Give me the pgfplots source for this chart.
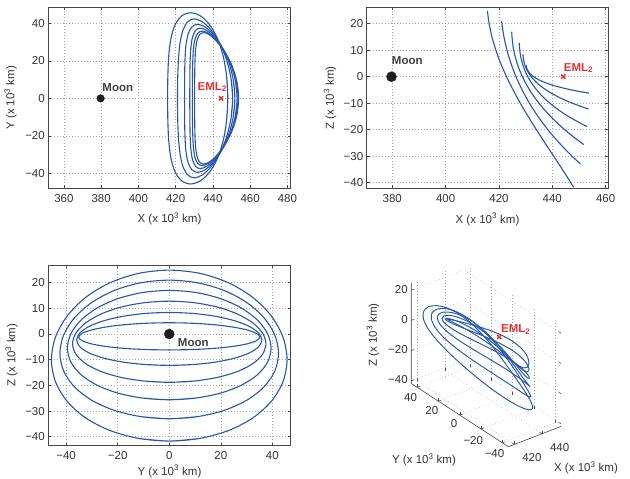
\documentclass[border=0pt]{standalone}
\usepackage{fontspec}
\setmainfont{Liberation Sans}
\usepackage{pgfplots}
\usepackage{pgfplotstable}
\pgfplotsset{compat=1.18}

\definecolor{orbit}{RGB}{38,86,172}
\definecolor{lagr}{RGB}{232,50,45}
\definecolor{moonc}{RGB}{30,30,30}
\definecolor{axcol}{RGB}{70,70,70}

% Halo orbit family about EML2, one table per orbit (x y z in 10^3 km).
% Each closed orbit repeats one sample before its start and after its end,
% so that the smoothed curve closes without a corner.
\pgfplotstableread{
x y z
447.37 -11.83 -40.67
448.00 0 -41.70
447.37 11.83 -40.67
445.47 22.85 -37.64
442.31 32.31 -32.75
438.06 39.58 -26.25
433.10 44.14 -18.51
428.00 45.70 -10.00
423.42 44.14 -1.27
419.86 39.58 7.05
417.54 32.31 14.35
416.31 22.85 20.04
415.81 11.83 23.65
415.70 0 24.90
415.81 -11.83 23.65
416.31 -22.85 20.04
417.54 -32.31 14.35
419.86 -39.58 7.05
423.42 -44.14 -1.27
428.00 -45.70 -10.00
433.10 -44.14 -18.51
438.06 -39.58 -26.25
442.31 -32.31 -32.75
445.47 -22.85 -37.64
447.37 -11.83 -40.67
448.00 0 -41.70
447.37 11.83 -40.67
}\orbA
\pgfplotstableread{
x y z
449.71 -10.97 -32.18
450.60 0 -33.00
449.71 10.97 -32.18
447.17 21.20 -29.76
443.37 29.98 -25.84
438.85 36.72 -20.63
434.22 40.95 -14.39
430.00 42.40 -7.50
426.56 40.95 -0.41
424.05 36.72 6.38
422.43 29.98 12.34
421.53 21.20 17.01
421.11 10.97 19.98
421.00 0 21.00
421.11 -10.97 19.98
421.53 -21.20 17.01
422.43 -29.98 12.34
424.05 -36.72 6.38
426.56 -40.95 -0.41
430.00 -42.40 -7.50
434.22 -40.95 -14.39
438.85 -36.72 -20.63
443.37 -29.98 -25.84
447.17 -21.20 -29.76
449.71 -10.97 -32.18
450.60 0 -33.00
449.71 10.97 -32.18
}\orbB
\pgfplotstableread{
x y z
450.90 -10.22 -24.95
451.80 0 -25.60
450.90 10.22 -24.95
448.37 19.75 -23.05
444.60 27.93 -19.96
440.18 34.21 -15.85
435.73 38.15 -10.93
431.80 39.50 -5.50
428.75 38.15 0.09
426.68 34.21 5.45
425.50 27.93 10.16
424.99 19.75 13.85
424.82 10.22 16.19
424.80 0 17.00
424.82 -10.22 16.19
424.99 -19.75 13.85
425.50 -27.93 10.16
426.68 -34.21 5.45
428.75 -38.15 0.09
431.80 -39.50 -5.50
435.73 -38.15 -10.93
440.18 -34.21 -15.85
444.60 -27.93 -19.96
448.37 -19.75 -23.05
450.90 -10.22 -24.95
451.80 0 -25.60
450.90 10.22 -24.95
}\orbC
\pgfplotstableread{
x y z
452.02 -9.71 -18.31
453.00 0 -18.80
452.02 9.71 -18.31
449.31 18.75 -16.88
445.37 26.52 -14.57
440.95 32.48 -11.50
436.72 36.22 -7.84
433.20 37.50 -3.80
430.63 36.22 0.34
429.00 32.48 4.30
428.13 26.52 7.77
427.75 18.75 10.48
427.62 9.71 12.21
427.60 0 12.80
427.62 -9.71 12.21
427.75 -18.75 10.48
428.13 -26.52 7.77
429.00 -32.48 4.30
430.63 -36.22 0.34
433.20 -37.50 -3.80
436.72 -36.22 -7.84
440.95 -32.48 -11.50
445.37 -26.52 -14.57
449.31 -18.75 -16.88
452.02 -9.71 -18.31
453.00 0 -18.80
452.02 9.71 -18.31
}\orbD
\pgfplotstableread{
x y z
452.62 -9.29 -11.88
453.60 0 -12.20
452.62 9.29 -11.88
449.92 17.95 -10.92
446.02 25.38 -9.38
441.68 31.09 -7.35
437.57 34.68 -4.94
434.20 35.90 -2.30
431.79 34.68 0.40
430.28 31.09 2.95
429.48 25.38 5.18
429.14 17.95 6.92
429.02 9.29 8.02
429.00 0 8.40
429.02 -9.29 8.02
429.14 -17.95 6.92
429.48 -25.38 5.18
430.28 -31.09 2.95
431.79 -34.68 0.40
434.20 -35.90 -2.30
437.57 -34.68 -4.94
441.68 -31.09 -7.35
446.02 -25.38 -9.38
449.92 -17.95 -10.92
452.62 -9.29 -11.88
453.60 0 -12.20
452.62 9.29 -11.88
}\orbE
\pgfplotstableread{
x y z
452.84 -9.08 -6.04
453.80 0 -6.20
452.84 9.08 -6.04
450.18 17.55 -5.57
446.37 24.82 -4.80
442.14 30.40 -3.78
438.19 33.90 -2.55
435.00 35.10 -1.20
432.75 33.90 0.19
431.36 30.40 1.53
430.63 24.82 2.70
430.32 17.55 3.62
430.22 9.08 4.20
430.20 0 4.40
430.22 -9.08 4.20
430.32 -17.55 3.62
430.63 -24.82 2.70
431.36 -30.40 1.53
432.75 -33.90 0.19
435.00 -35.10 -1.20
438.19 -33.90 -2.55
442.14 -30.40 -3.78
446.37 -24.82 -4.80
450.18 -17.55 -5.57
452.84 -9.08 -6.04
453.80 0 -6.20
452.84 9.08 -6.04
}\orbF

\newcommand{\kmlabel}[1]{#1 (x 10\textsuperscript{3} km)}

\tikzset{
  tag/.style={inner sep=0pt, font=\bfseries\fontsize{11.5}{13}\selectfont},
  lbl/.style={font=\fontsize{11.5}{13}\selectfont, text=black!80},
}
\pgfplotsset{
  panel/.style={
    scale only axis,
    axis line style={axcol, line width=0.6pt},
    tick style={axcol, line width=0.5pt},
    major tick length=3pt,
    grid=major,
    major grid style={gray!70, line width=0.45pt, dash pattern=on 0.6pt off 2.4pt},
    tick label style={font=\fontsize{11.5}{13}\selectfont, text=black!80},
    xticklabel style={yshift=-2.5pt},
    label style={font=\fontsize{11.5}{13}\selectfont, text=black!80},
    xlabel style={at={(axis description cs:0.5,-0.17)}, anchor=center},
    ylabel style={at={(axis description cs:-0.156,0.5)}, anchor=center},
  },
  orb/.style={orbit, line width=1.1pt, smooth, no marks},
  moonmark/.style={only marks, mark=*, mark size=#1, moonc},
  l2mark/.style={only marks, mark=x, mark size=3pt, lagr, line width=1.5pt},
}

\begin{document}
\begin{tikzpicture}
\path[use as bounding box] (0,0) rectangle (630pt,479pt);

% ---- X-Y projection ----
\begin{axis}[panel, at={(48.3pt,290.7pt)}, anchor=south west,
  width=242.4pt, height=181pt,
  xmin=351.6, xmax=481.8, ymin=-48, ymax=48.6,
  xtick={360,380,...,480}, ytick={-40,-20,0,20,40},
  xticklabels={360,380,400,420,440,460,480},
  yticklabels={−40,−20,0,20,40},
  xlabel={\kmlabel{X}}, ylabel={\kmlabel{Y}}]
\addplot[orb] table[x=x,y=y] {\orbA};
\addplot[orb] table[x=x,y=y] {\orbB};
\addplot[orb] table[x=x,y=y] {\orbC};
\addplot[orb] table[x=x,y=y] {\orbD};
\addplot[orb] table[x=x,y=y] {\orbE};
\addplot[orb] table[x=x,y=y] {\orbF};
\addplot[moonmark=3.8pt] coordinates {(379.7,0)};
\addplot[l2mark] coordinates {(444.4,0)};
\node[tag, anchor=west, text=moonc!85] at (axis cs:380.6,5.9) {Moon};
\node[tag, anchor=base west, text=lagr] at (axis cs:431.7,4.4) {EML\textsubscript{2}};
\end{axis}

% ---- X-Z projection ----
\begin{axis}[panel, at={(366.7pt,290.5pt)}, anchor=south west,
  width=241.6pt, height=181.2pt,
  xmin=370.4, xmax=461, ymin=-42.2, ymax=26.2,
  xtick={380,400,...,460}, ytick={-40,-30,...,20},
  xticklabels={380,400,420,440,460},
  yticklabels={−40,−30,−20,−10,0,10,20},
  xlabel={\kmlabel{X}}, ylabel={\kmlabel{Z}},
  ylabel style={at={(axis description cs:-0.152,0.5)}}]
\addplot[orb] table[x=x,y=z] {\orbA};
\addplot[orb] table[x=x,y=z] {\orbB};
\addplot[orb] table[x=x,y=z] {\orbC};
\addplot[orb] table[x=x,y=z] {\orbD};
\addplot[orb] table[x=x,y=z] {\orbE};
\addplot[orb] table[x=x,y=z] {\orbF};
\addplot[moonmark=5pt] coordinates {(379.7,0)};
\addplot[l2mark] coordinates {(444.1,0)};
\node[tag, anchor=west, text=moonc!85] at (axis cs:379.8,5.9) {Moon};
\node[tag, anchor=base west, text=lagr] at (axis cs:444.3,2.1) {EML\textsubscript{2}};
\end{axis}

% ---- Y-Z projection ----
\begin{axis}[panel, at={(48.3pt,33.3pt)}, anchor=south west,
  width=242.4pt, height=180.7pt,
  xmin=-46.9, xmax=47.1, ymin=-43.5, ymax=26.9,
  xtick={-40,-20,...,40}, ytick={-40,-30,...,20},
  xticklabels={−40,−20,0,20,40},
  yticklabels={−40,−30,−20,−10,0,10,20},
  xlabel={\kmlabel{Y}}, ylabel={\kmlabel{Z}},
  xlabel style={at={(axis description cs:0.5,-0.142)}},
  ylabel style={at={(axis description cs:-0.151,0.5)}}]
\addplot[orb] table[x=y,y=z] {\orbA};
\addplot[orb] table[x=y,y=z] {\orbB};
\addplot[orb] table[x=y,y=z] {\orbC};
\addplot[orb] table[x=y,y=z] {\orbD};
\addplot[orb] table[x=y,y=z] {\orbE};
\addplot[orb] table[x=y,y=z] {\orbF};
\addplot[moonmark=5pt] coordinates {(0,0)};
\node[tag, anchor=west, text=moonc!85] at (axis cs:3.3,-3.2) {Moon};
\end{axis}

% ---- 3-D view ----
\begin{axis}[at={(411.2pt,32.3pt)}, anchor=south west,
  x={(1.3845pt,0.5312pt)}, y={(-1.0624pt,0.6922pt)}, z={(0pt,1.5112pt)},
  xmin=415.7, xmax=453.8, ymin=-45.7, ymax=45.7, zmin=-41.7, zmax=24.9,
  xtick={420,440}, ytick={-40,-20,...,40}, ztick={-40,-20,0,20},
  xticklabels={420,440},
  yticklabels={−40,−20,0,20,40},
  zticklabels={−40,−20,0,20},
  xtick pos=left, ytick pos=left, ztick pos=left,
  axis line style={draw=none},
  tick style={axcol, line width=0.5pt},
  major tick length=3pt,
  grid=major,
  major grid style={gray!70, line width=0.45pt, dash pattern=on 0.6pt off 2.4pt},
  tick label style={font=\fontsize{11.5}{13}\selectfont, text=black!80},
  xticklabel style={xshift=12pt, yshift=-3pt},
  clip=false]
\addplot3[orb, line width=0.95pt] table[x=x,y=y,z=z] {\orbA};
\addplot3[orb, line width=0.95pt] table[x=x,y=y,z=z] {\orbB};
\addplot3[orb, line width=0.95pt] table[x=x,y=y,z=z] {\orbC};
\addplot3[orb, line width=0.95pt] table[x=x,y=y,z=z] {\orbD};
\addplot3[orb, line width=0.95pt] table[x=x,y=y,z=z] {\orbE};
\addplot3[orb, line width=0.95pt] table[x=x,y=y,z=z] {\orbF};
\addplot3[l2mark] coordinates {(444.2,0,0)};
\node[tag, anchor=base west, text=lagr, xshift=1.8pt, yshift=4.6pt] at (axis cs:444.2,0,0) {EML\textsubscript{2}};
\draw[axcol, line width=0.6pt] (axis cs:415.7,45.7,24.9) -- (axis cs:415.7,45.7,-41.7)
  -- (axis cs:415.7,-45.7,-41.7) -- (axis cs:453.8,-45.7,-41.7);
\end{axis}
\node[lbl, rotate=90] at (373pt,144pt) {\kmlabel{Z}};
\node[lbl] at (424pt,19pt) {\kmlabel{Y}};
\node[lbl] at (586pt,11pt) {\kmlabel{X}};
\end{tikzpicture}
\end{document}
